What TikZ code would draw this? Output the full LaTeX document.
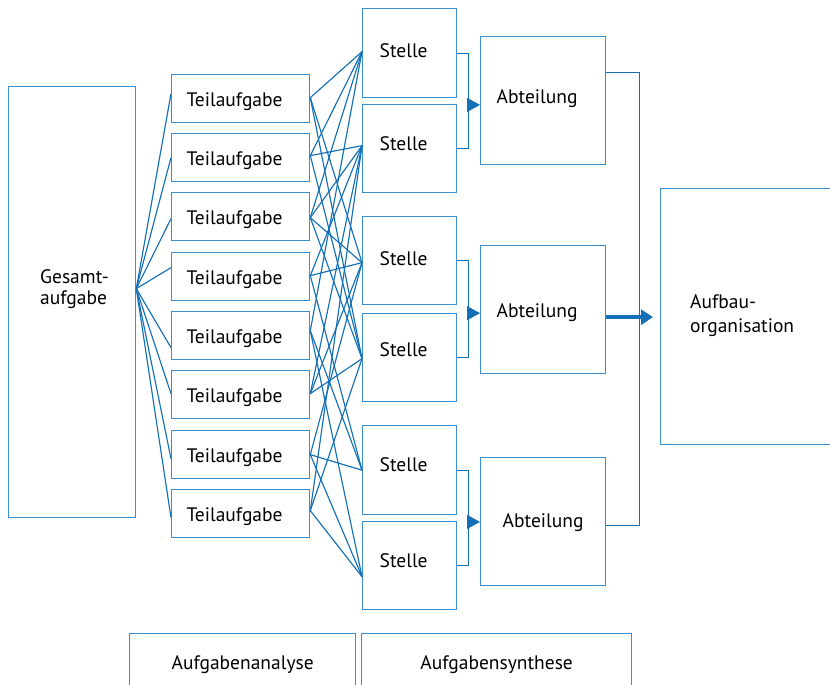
\documentclass[tikz,border=0pt]{standalone}
\usepackage{fontspec}
\setmainfont{PT Sans}
\usetikzlibrary{arrows.meta,calc}
\definecolor{boxblue}{RGB}{58,143,208}
\definecolor{lineblue}{RGB}{20,112,182}
\begin{document}
\begin{tikzpicture}[x=1pt,y=-1pt,
  box/.style={draw=boxblue, line width=1.3pt, inner sep=0pt, anchor=north west},
  txt/.style={font=\fontsize{19.5}{23}\selectfont, inner sep=0pt},
  lbl/.style={txt, text height=14pt, text depth=4pt},
  conn/.style={draw=lineblue, line width=1.15pt},
  tip/.style={conn, -{Triangle[length=13pt,width=14pt]}, fill=lineblue},
  bigtip/.style={draw=lineblue, line width=3.6pt, -{Triangle[length=12pt,width=15pt]}}
]
\useasboundingbox (0,0) rectangle (830,685);

% whole task
\node[box, minimum width=127pt, minimum height=431pt] (G) at (8,86) {};
\node[txt, anchor=west, align=left, font=\fontsize{19.5}{21.5}\selectfont] (Gt) at (40,289) {Gesamt-\\aufgabe};

% partial tasks
\foreach \i/\y in {1/74,2/133,3/192,4/252,5/311,6/370,7/430,8/489}
  \node[box, lbl, anchor=north west, minimum width=138pt, minimum height=48pt,
        text width=108pt, inner xsep=15pt, align=left] (T\i) at (171,\y) {\raisebox{-3pt}{Teilaufgabe}};

% positions
\foreach \i/\y/\h/\r in {1/8/89/0.5,2/104/88/3,3/216/88/0,4/313/88/6,5/425/89/3.5,6/521/88/3}
  \node[box, lbl, anchor=north west, minimum width=94pt, minimum height=\h pt,
        text width=60pt, inner xsep=17pt, align=left] (S\i) at (362,\y) {\raisebox{\r pt}{Stelle}};

% departments
\foreach \i/\y/\s/\r in {1/36/16/2,2/245/16/-3,3/457/22/-1}
  \node[box, lbl, anchor=north west, minimum width=125pt, minimum height=128pt,
        text width={(93-2*(\s-16))*1pt}, inner xsep=\s pt, align=left] (A\i) at (480,\y) {\raisebox{\r pt}{Abteilung}};

% organisation
\node[box, minimum width=175pt, minimum height=256pt] (O) at (660,188) {};
\node[txt, anchor=west, align=left, font=\fontsize{19.5}{24}\selectfont] (Ot) at (690,316) {Aufbau-\\organisation};

% phases
\node[box, lbl, minimum width=226pt, minimum height=60pt] (B1) at (129,633) {\raisebox{-1pt}{Aufgabenanalyse}};
\node[box, lbl, minimum width=270pt, minimum height=60pt] (B2) at (361,633) {\raisebox{-1pt}{Aufgabensynthese}};

% fan from the whole task to its parts
\coordinate (g0) at ([yshift=13.5pt]G.east);
\foreach \i/\d in {1/5,2/0,3/-2,4/9,5/-12,6/1,7/-4,8/-4}
  \draw[conn] (g0) -- ([yshift=\d pt]T\i.west);

% attachment points of the partial tasks and positions
\foreach \i/\d in {1/1,2/2,3/-1,4/1,5/5,6/1,7/0,8/3}
  \coordinate (t\i) at ([yshift=\d pt]T\i.east);
\foreach \j/\d in {1/1.5,2/3,3/-2,4/-1,5/0,6/-11}
  \coordinate (s\j) at ([yshift=\d pt]S\j.west);

% assignment of partial tasks to positions
\foreach \i/\j in {1/1,1/3,1/4,2/1,2/2,2/4,3/1,3/2,3/3,3/4,4/2,4/3,4/5,
                   5/1,5/5,5/6,6/2,6/3,6/4,7/3,7/5,7/6,8/2,8/4,8/6}
  \draw[conn] (t\i) -- (s\j);

% positions grouped into departments
\foreach \a/\p/\q in {1/1/2,2/3/4,3/5/6}{
  \draw[conn] (S\p.east) -- ++(11,0) |- (S\q.east);
  \coordinate (m\a) at ($(S\p.east)!0.5!(S\q.east)+(11,4)$);
  \draw[tip] (m\a) -- (m\a -| A\a.west);
}

% departments into the organisation
\draw[conn] ([yshift=28pt]A1.east) -- ++(33,0) coordinate (r1) |- ([yshift=-4pt]A3.east);
\draw[bigtip, shorten >=7pt] ([yshift=-7.5pt]A2.east) -- ([yshift=-7.5pt]A2.east -| O.west);
\end{tikzpicture}
\end{document}
